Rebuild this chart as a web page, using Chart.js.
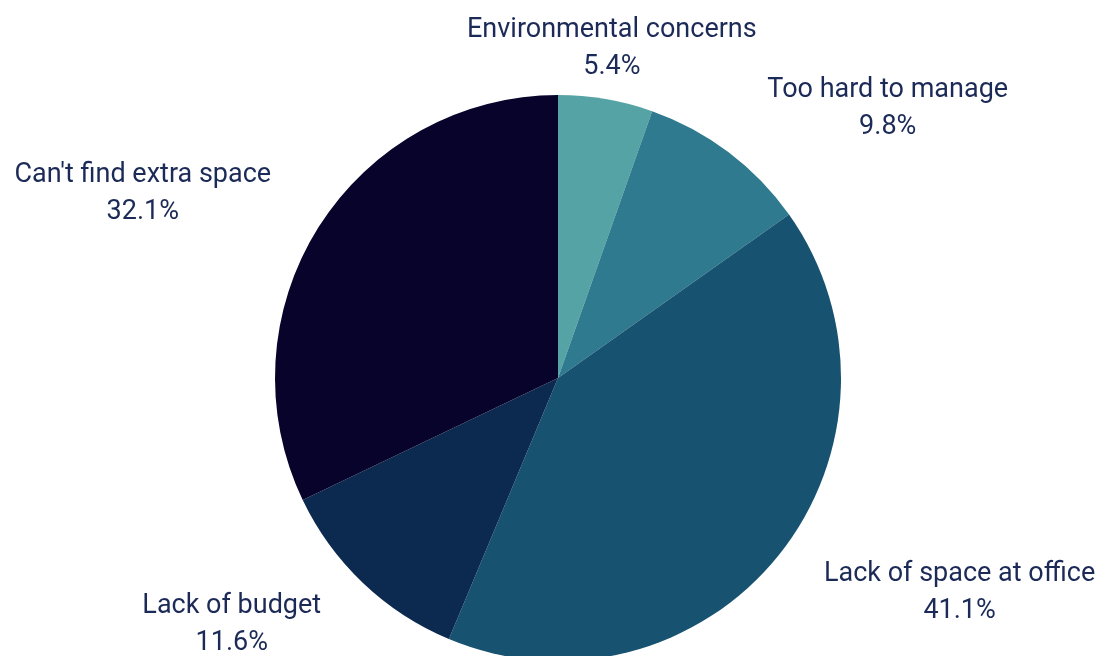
<!DOCTYPE html>
<html>
<head>
<meta charset="utf-8">
<style>
  html, body { margin: 0; padding: 0; background: #ffffff; overflow: hidden; }
  #wrap { position: relative; width: 1107px; height: 700px; }
</style>
<script src="https://cdn.jsdelivr.net/npm/chart.js@4/dist/chart.umd.min.js"></script>
</head>
<body>
<div id="wrap"><canvas id="chart"></canvas></div>
<script>
// Reasons for not adding storage, share of respondents (%)
const categories = [
  "Environmental concerns",
  "Too hard to manage",
  "Lack of space at office",
  "Lack of budget",
  "Can't find extra space"
];
const shares = [5.4, 9.8, 41.1, 11.6, 32.1];
const sliceColors = ["#56a3a6", "#2f7a8e", "#175270", "#0c2a50", "#08032b"];

const LABEL_FONT = "27px Roboto";
const LABEL_COLOR = "#1b2a57";
const LINE_GAP = 37;
const LABEL_OFFSET = 36;
const H_PAD = 17;   // extra horizontal push away from the pie for side labels
const V_PAD = 16;   // vertical pull back toward the pie's middle

// Draws two-line "name / value%" labels just outside each slice
const outsideLabels = {
  id: "outsideLabels",
  afterDatasetsDraw(chart) {
    const ctx = chart.ctx;
    const meta = chart.getDatasetMeta(0);
    const W = chart.width;
    ctx.save();
    ctx.font = LABEL_FONT;
    ctx.fillStyle = LABEL_COLOR;
    ctx.textBaseline = "middle";
    ctx.textAlign = "center";
    meta.data.forEach((arc, i) => {
      const p = arc.getProps(["x", "y", "startAngle", "endAngle", "outerRadius"], true);
      const mid = (p.startAngle + p.endAngle) / 2;
      const dx = Math.cos(mid), dy = Math.sin(mid);
      const ax = p.x + (p.outerRadius + LABEL_OFFSET) * dx;
      const ay = p.y + (p.outerRadius + LABEL_OFFSET) * dy;
      const lines = [categories[i], shares[i].toFixed(1) + "%"];
      const natural = Math.max(...lines.map(t => ctx.measureText(t).width));
      let left;
      if (Math.abs(dx) < 0.3) left = ax - natural / 2;
      else if (dx > 0) left = ax + H_PAD;
      else left = ax - H_PAD - natural;
      const margin = 9;
      let boxW = natural;
      if (left + boxW > W - margin) boxW = W - margin - left;
      if (left < margin) { boxW -= (margin - left); left = margin; }
      const cx = left + boxW / 2;
      // first line's centre: above the anchor for upper slices, below it otherwise
      const y0 = dy < 0 ? ay - 12 - LINE_GAP + V_PAD : ay + 13 - V_PAD;
      lines.forEach((t, k) => {
        const w = ctx.measureText(t).width;
        const yy = y0 + k * LINE_GAP;
        if (w > boxW) ctx.fillText(t, cx, yy, boxW);
        else ctx.fillText(t, cx, yy);
      });
    });
    ctx.restore();
  }
};

new Chart(document.getElementById("chart"), {
  type: "pie",
  data: {
    labels: categories,
    datasets: [{
      data: shares,
      backgroundColor: sliceColors,
      borderWidth: 0
    }]
  },
  options: {
    responsive: true,
    maintainAspectRatio: false,
    animation: false,
    layout: { padding: { top: 95, bottom: 39, left: 9, right: 0 } },
    plugins: {
      legend: { display: false },
      tooltip: { enabled: false }
    }
  },
  plugins: [outsideLabels]
});
</script>
</body>
</html>
